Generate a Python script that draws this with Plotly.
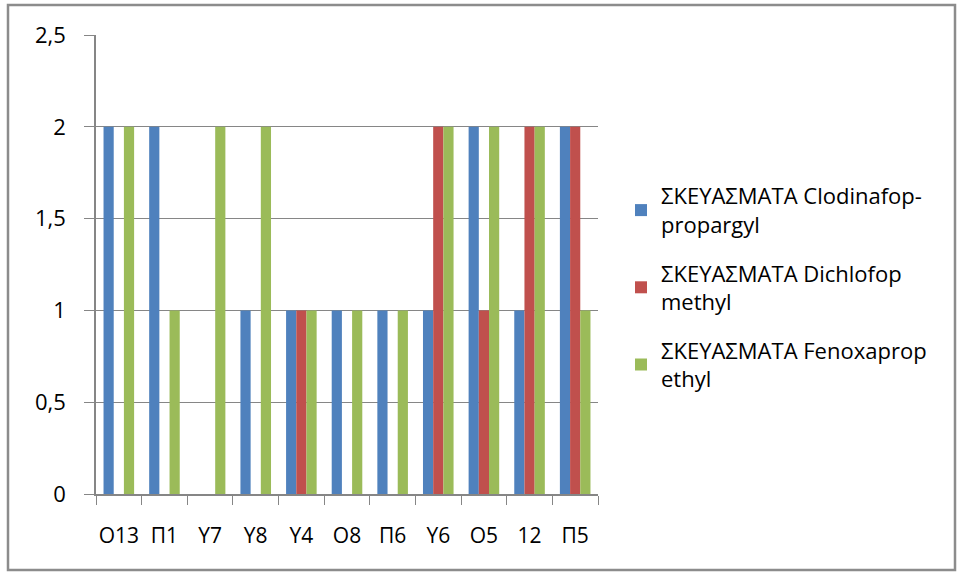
import plotly.graph_objects as go

categories = ["O13", "Π1", "Y7", "Y8", "Y4", "O8", "Π6", "Y6", "O5", "12", "Π5"]
clodinafop = [2, 2, 0, 1, 1, 1, 1, 1, 2, 1, 2]
dichlofop = [0, 0, 0, 0, 1, 0, 0, 2, 1, 2, 2]
fenoxaprop = [2, 1, 2, 2, 1, 1, 1, 2, 2, 2, 1]
series_names = [
    "ΣΚΕΥΑΣΜΑΤΑ Clodinafop-<br>propargyl",
    "ΣΚΕΥΑΣΜΑΤΑ Dichlofop<br>methyl",
    "ΣΚΕΥΑΣΜΑΤΑ Fenoxaprop<br>ethyl",
]
colors = ["#4F81BD", "#C0504D", "#9BBB59"]
y_ticks = [0, 0.5, 1, 1.5, 2, 2.5]

W, H = 963, 578
L, R, T, B = 96, 365, 35, 84
pw, ph = W - L - R, H - T - B

fig = go.Figure()
for i, (vals, name, col) in enumerate(zip([clodinafop, dichlofop, fenoxaprop], series_names, colors)):
    fig.add_trace(go.Bar(x=categories, y=vals, name=name, marker=dict(color=col, line_width=0),
                         legendgroup=f"g{i}"))

def px_x(x):
    return (x - L) / pw

def px_y(y):
    return (H - B - y) / ph

fig.update_layout(
    width=W, height=H,
    margin=dict(l=L, r=R, t=T, b=B),
    paper_bgcolor="white", plot_bgcolor="white",
    barmode="group", bargap=0.33, bargroupgap=0,
    separators=",.",
    font=dict(family="Open Sans, Liberation Sans, sans-serif", color="black"),
    legend=dict(x=px_x(621), y=px_y(175), xanchor="left", yanchor="top",
                font=dict(size=22), tracegroupgap=17, itemwidth=30,
                bgcolor="rgba(0,0,0,0)"),
    shapes=[dict(type="rect", xref="paper", yref="paper",
                 x0=px_x(8), x1=px_x(955), y0=px_y(570), y1=px_y(5),
                 line=dict(color="#8C8C8C", width=2.5), layer="below")],
)
fig.update_xaxes(showline=True, linecolor="#868686", linewidth=1.5, tickangle=0,
                 ticks="outside", tickson="boundaries", ticklen=9, tickcolor="#868686",
                 tickfont=dict(size=21), ticklabelstandoff=22, showgrid=False)
fig.update_yaxes(range=[0, 2.5], tickvals=y_ticks, showline=True, linecolor="#868686", linewidth=1.5,
                 ticks="outside", ticklen=10, tickcolor="#868686",
                 showgrid=True, gridcolor="#868686", gridwidth=1,
                 tickfont=dict(size=22), ticklabelstandoff=14, zeroline=False)

fig.write_html("out.html")
